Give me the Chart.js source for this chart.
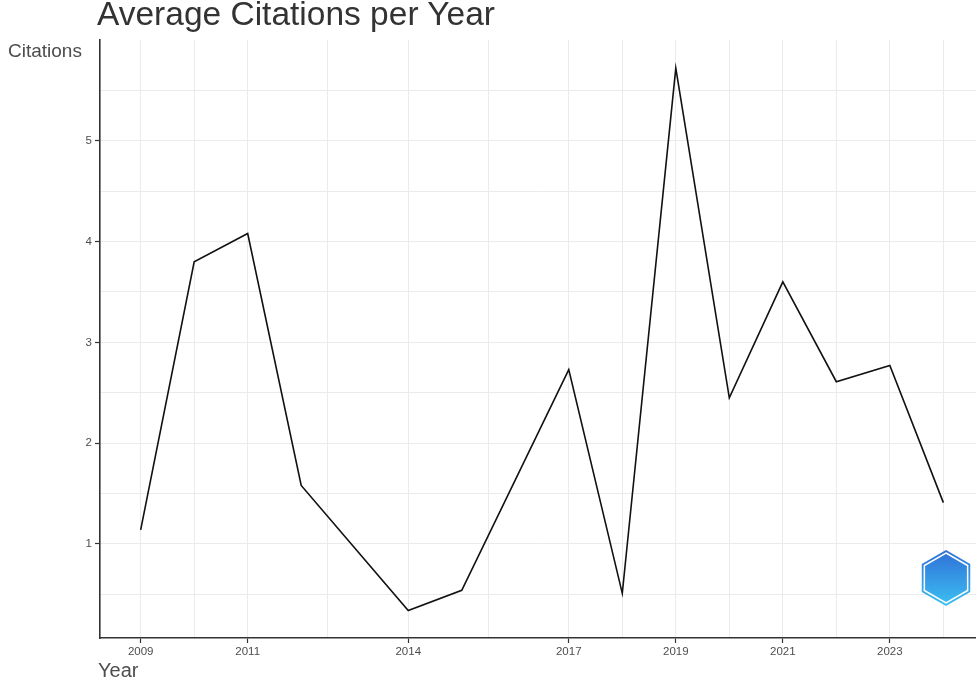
<!DOCTYPE html>
<html>
<head>
<meta charset="utf-8">
<title>Average Citations per Year</title>
<script src="https://cdn.jsdelivr.net/npm/chart.js@4"></script>
<style>
    html, body { margin: 0; padding: 0; background: #fff; }
    #wrap { position: relative; width: 976px; height: 691px; overflow: hidden; }
    #chart { position: absolute; left: 0; top: 0; }
    .lbl { position: absolute; font-family: "Liberation Sans", Arial, sans-serif; color: #4d4d4d; white-space: nowrap; }
    #title { left: 97px; top: -5px; font-size: 33.5px; color: #333; }
    #ylab { left: 8px; top: 40px; font-size: 19px; }
    #xlab { left: 98px; top: 659px; font-size: 20px; }
</style>
</head>
<body>
<div id="wrap">
    <canvas id="chart" width="976" height="691"></canvas>
    <div class="lbl" id="title">Average Citations per Year</div>
    <div class="lbl" id="ylab">Citations</div>
    <div class="lbl" id="xlab">Year</div>
</div>
<script>
// Data
const years = [2009, 2010, 2011, 2012, 2014, 2015, 2017, 2018, 2019, 2020, 2021, 2022, 2023, 2024];
const citations = [1.14, 3.80, 4.08, 1.58, 0.34, 0.54, 2.73, 0.51, 5.72, 2.45, 3.60, 2.61, 2.77, 1.41];

// Axis breaks (labelled majors + unlabelled minor grid lines)
const xMajorTicks = [2009, 2011, 2014, 2017, 2019, 2021, 2023];
const xMinorTicks = [2010, 2012.5, 2015.5, 2018, 2020, 2022, 2024];
const yMajorTicks = [1, 2, 3, 4, 5];
const yMinorTicks = [0.5, 1.5, 2.5, 3.5, 4.5, 5.5];

const tickFont = { family: "'Liberation Sans', Arial, sans-serif", size: 11.5 };
const gridColor = '#ebebeb';
const axisColor = '#333333';

function allTicks(major, minor) {
    return major.concat(minor).sort((a, b) => a - b).map(v => ({ value: v }));
}

// small hexagon badge in the bottom-right corner, like the reference watermark
const badge = {
    id: 'badge',
    afterDraw(chart) {
        const ctx = chart.ctx;
        const cx = 946, cy = 578, r = 28;
        const hex = (rad) => {
            ctx.beginPath();
            for (let i = 0; i < 6; i++) {
                const a = Math.PI / 3 * i - Math.PI / 2;
                const px = cx + rad * Math.cos(a), py = cy + rad * Math.sin(a);
                if (i === 0) ctx.moveTo(px, py); else ctx.lineTo(px, py);
            }
            ctx.closePath();
        };
        ctx.save();
        const g = ctx.createLinearGradient(cx, cy - r, cx, cy + r);
        g.addColorStop(0, '#2f6fd6');
        g.addColorStop(1, '#3cc0f2');
        hex(r);
        ctx.fillStyle = g;
        ctx.fill();
        hex(r - 3);
        ctx.strokeStyle = '#ffffff';
        ctx.lineWidth = 1.5;
        ctx.stroke();
        ctx.restore();
    }
};

const ctx = document.getElementById('chart').getContext('2d');
const chart = new Chart(ctx, {
    type: 'line',
    data: {
        datasets: [{
            label: 'Citations',
            data: years.map((y, i) => ({ x: y, y: citations[i] })),
            borderColor: '#111111',
            borderWidth: 1.6,
            pointRadius: 0,
            tension: 0,
            fill: false
        }]
    },
    options: {
        responsive: false,
        devicePixelRatio: 1,
        animation: false,
        layout: { padding: { top: 40, right: 0, bottom: 0, left: 0 } },
        plugins: {
            legend: { display: false },
            tooltip: { enabled: false },
            title: { display: false }
        },
        scales: {
            x: {
                type: 'linear',
                min: 2008.24,
                max: 2024.61,
                afterBuildTicks: (s) => { s.ticks = allTicks(xMajorTicks, xMinorTicks); },
                afterFit: (s) => { s.height = 53; },
                ticks: {
                    autoSkip: false,
                    maxRotation: 0,
                    padding: 2,
                    color: '#4d4d4d',
                    font: tickFont,
                    callback: (v) => xMajorTicks.includes(v) ? String(v) : ''
                },
                grid: {
                    color: gridColor,
                    lineWidth: 1,
                    tickLength: 5,
                    tickWidth: 1.2,
                    tickColor: (c) => (c.tick && xMajorTicks.includes(c.tick.value)) ? axisColor : 'rgba(0,0,0,0)'
                },
                border: { display: true, color: axisColor, width: 1.6 }
            },
            y: {
                type: 'linear',
                min: 0.067,
                max: 6.0,
                afterBuildTicks: (s) => { s.ticks = allTicks(yMajorTicks, yMinorTicks); },
                afterFit: (s) => { s.width = 100; },
                ticks: {
                    autoSkip: false,
                    padding: 3,
                    color: '#4d4d4d',
                    font: tickFont,
                    callback: (v) => yMajorTicks.includes(v) ? String(v) : ''
                },
                grid: {
                    color: gridColor,
                    lineWidth: 1,
                    tickLength: 5,
                    tickWidth: 1.2,
                    tickColor: (c) => (c.tick && yMajorTicks.includes(c.tick.value)) ? axisColor : 'rgba(0,0,0,0)'
                },
                border: { display: true, color: axisColor, width: 1.6 }
            }
        }
    },
    plugins: [badge]
});
</script>
</body>
</html>
